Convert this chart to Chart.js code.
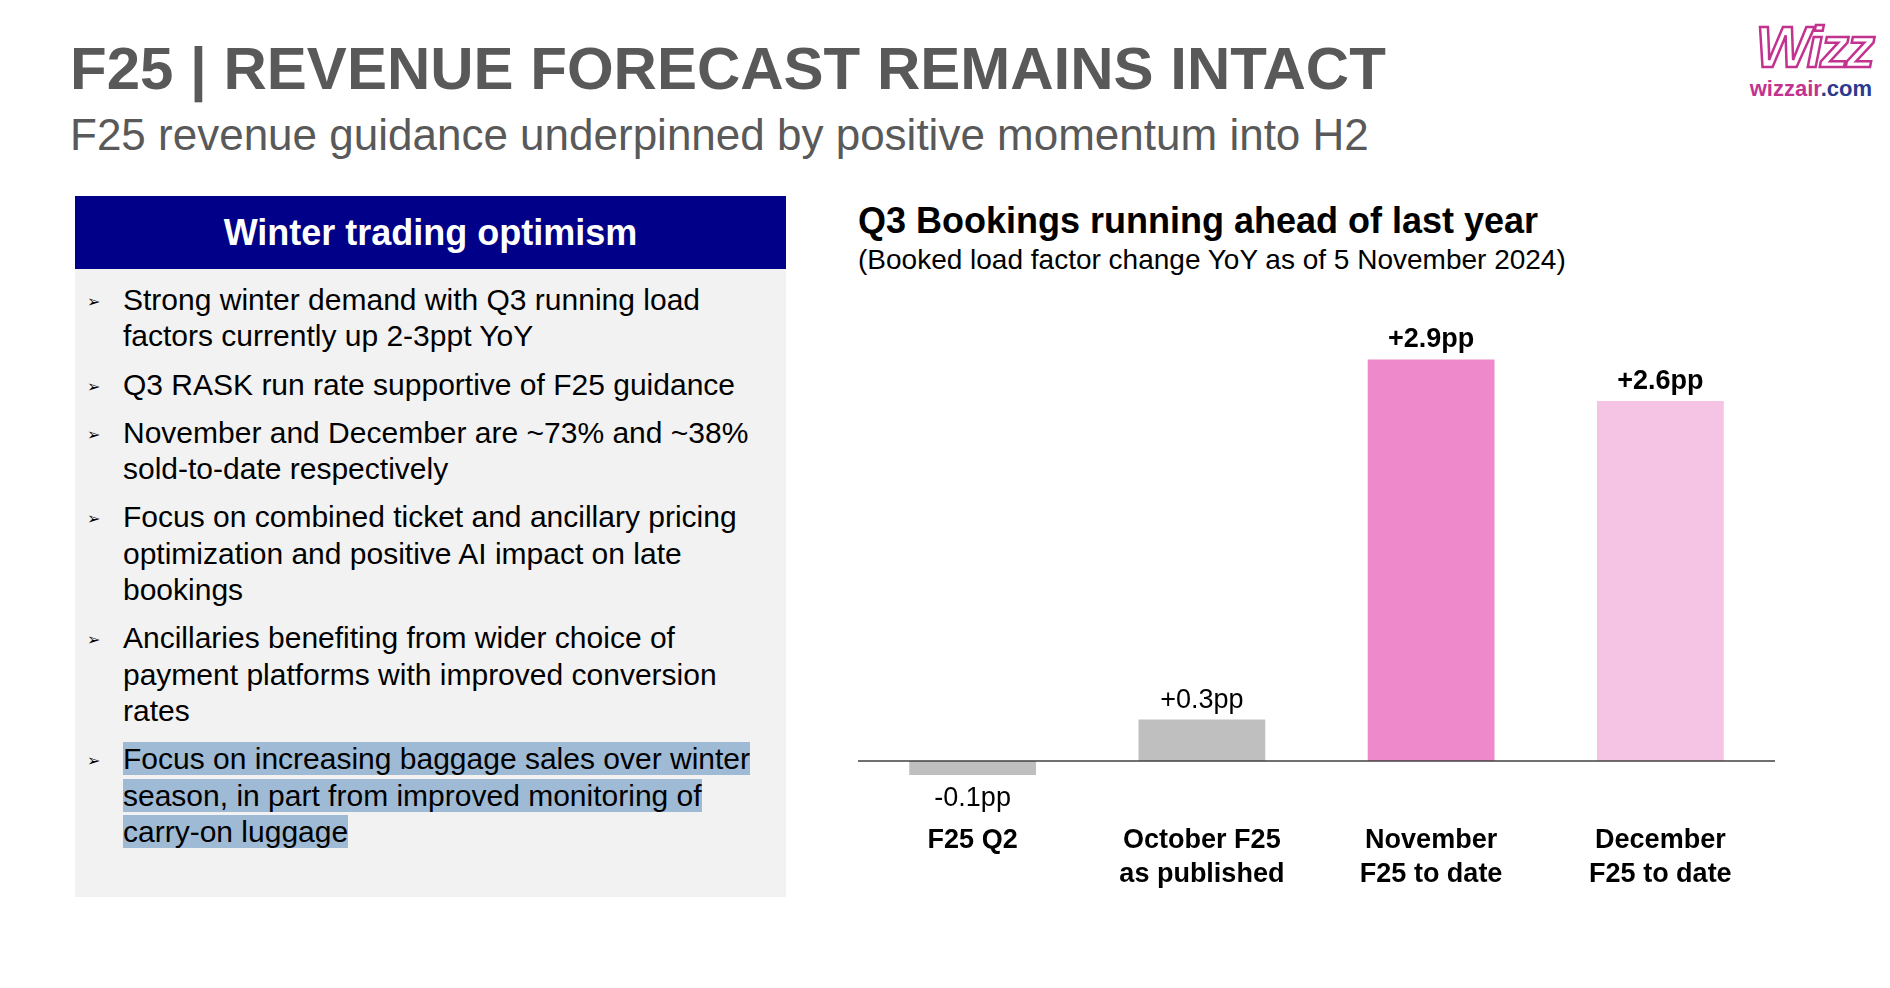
<!DOCTYPE html>
<html><head><meta charset="utf-8">
<script src="https://cdn.jsdelivr.net/npm/chart.js@4"></script>
<style>
body{margin:0;width:1890px;height:988px;background:#fff;font-family:"Liberation Sans",Arial,sans-serif;position:relative;overflow:hidden}
.t{position:absolute;left:70px;top:34px;font-size:60px;font-weight:bold;color:#595959;white-space:nowrap}
.s{position:absolute;left:70px;top:110px;font-size:44px;color:#595959;white-space:nowrap}
.panel{position:absolute;left:75px;top:196px;width:711px;height:701px;background:#f2f2f2}
.hd{height:73px;background:#000088;color:#fff;font-weight:bold;font-size:36px;text-align:center;line-height:73px}
ul{margin:0;padding:13px 22px 0 48px;list-style:none}
li{position:relative;font-size:30px;line-height:36.3px;color:#000;margin-bottom:12px}
li:before{content:"➢";position:absolute;left:-36px;font-size:16px;top:2px}
.hl{background:#9fbad4}
.ct{position:absolute;left:858px;top:200px;font-size:36px;font-weight:bold;color:#000;white-space:nowrap}
.cs{position:absolute;left:858px;top:244px;font-size:28px;color:#000;white-space:nowrap}
.logo{position:absolute;left:1700px;top:16px;width:172px;text-align:right}
.w{font-size:58px;font-weight:bold;font-style:italic;color:#fff;-webkit-text-stroke:2.5px #c2338f;letter-spacing:-3px;line-height:62px}
.wc{font-size:22px;font-weight:bold;color:#c2338f;margin-top:-2px}
.wc span{color:#2d3a8c}
#wrap{position:absolute;left:858px;top:318px;width:917px;height:598px}
</style></head><body>
<div class="t">F25 | REVENUE FORECAST REMAINS INTACT</div>
<div class="s">F25 revenue guidance underpinned by positive momentum into H2</div>
<div class="logo"><div class="w">Wizz</div><div class="wc">wizzair<span>.com</span></div></div>
<div class="panel"><div class="hd">Winter trading optimism</div>
<ul>
<li>Strong winter demand with Q3 running load factors currently up 2-3ppt YoY</li>
<li>Q3 RASK run rate supportive of F25 guidance</li>
<li>November and December are ~73% and ~38% sold-to-date respectively</li>
<li>Focus on combined ticket and ancillary pricing optimization and positive AI impact on late bookings</li>
<li>Ancillaries benefiting from wider choice of payment platforms with improved conversion rates</li>
<li><span class="hl">Focus on increasing baggage sales over winter season, in part from improved monitoring of carry-on luggage</span></li>
</ul></div>
<div class="ct">Q3 Bookings running ahead of last year</div>
<div class="cs">(Booked load factor change YoY as of 5 November 2024)</div>
<div id="wrap"><canvas id="c"></canvas></div>
<script>
const categories=[["F25 Q2"],["October F25","as published"],["November","F25 to date"],["December","F25 to date"]];
const values=[-0.1,0.3,2.9,2.6];
const labels=["-0.1pp","+0.3pp","+2.9pp","+2.6pp"];
const boldLabel=[false,false,true,true];
const colors=["#bfbfbf","#bfbfbf","#ee89cc","#f5c4e5"];
const lab={id:"lab",afterDatasetsDraw(ch){const c=ch.ctx,m=ch.getDatasetMeta(0),y=ch.scales.y;
c.save();c.strokeStyle="#404040";c.lineWidth=1.5;c.beginPath();c.moveTo(ch.chartArea.left,y.getPixelForValue(0));c.lineTo(ch.chartArea.right,y.getPixelForValue(0));c.stroke();
c.fillStyle="#000";c.textAlign="center";
m.data.forEach((b,i)=>{c.font=(boldLabel[i]?"bold ":"")+"27px 'Liberation Sans',Arial";
if(values[i]<0){c.textBaseline="top";c.fillText(labels[i],b.x,b.y+10);}else{c.textBaseline="bottom";c.fillText(labels[i],b.x,b.y-6);}});
c.restore();}};
new Chart(document.getElementById("c"),{type:"bar",data:{labels:categories,datasets:[{data:values,backgroundColor:colors,categoryPercentage:1,barPercentage:0.553}]},
options:{responsive:true,maintainAspectRatio:false,animation:false,layout:{padding:0},
plugins:{legend:{display:false},tooltip:{enabled:false}},
scales:{y:{display:false,min:-0.27,max:3.2},x:{grid:{display:false,drawTicks:false},border:{display:false},
ticks:{color:"#000",font:{family:"'Liberation Sans',Arial",size:27,weight:"bold",lineHeight:1.25},padding:25}}}},
plugins:[lab]});
</script></body></html>
